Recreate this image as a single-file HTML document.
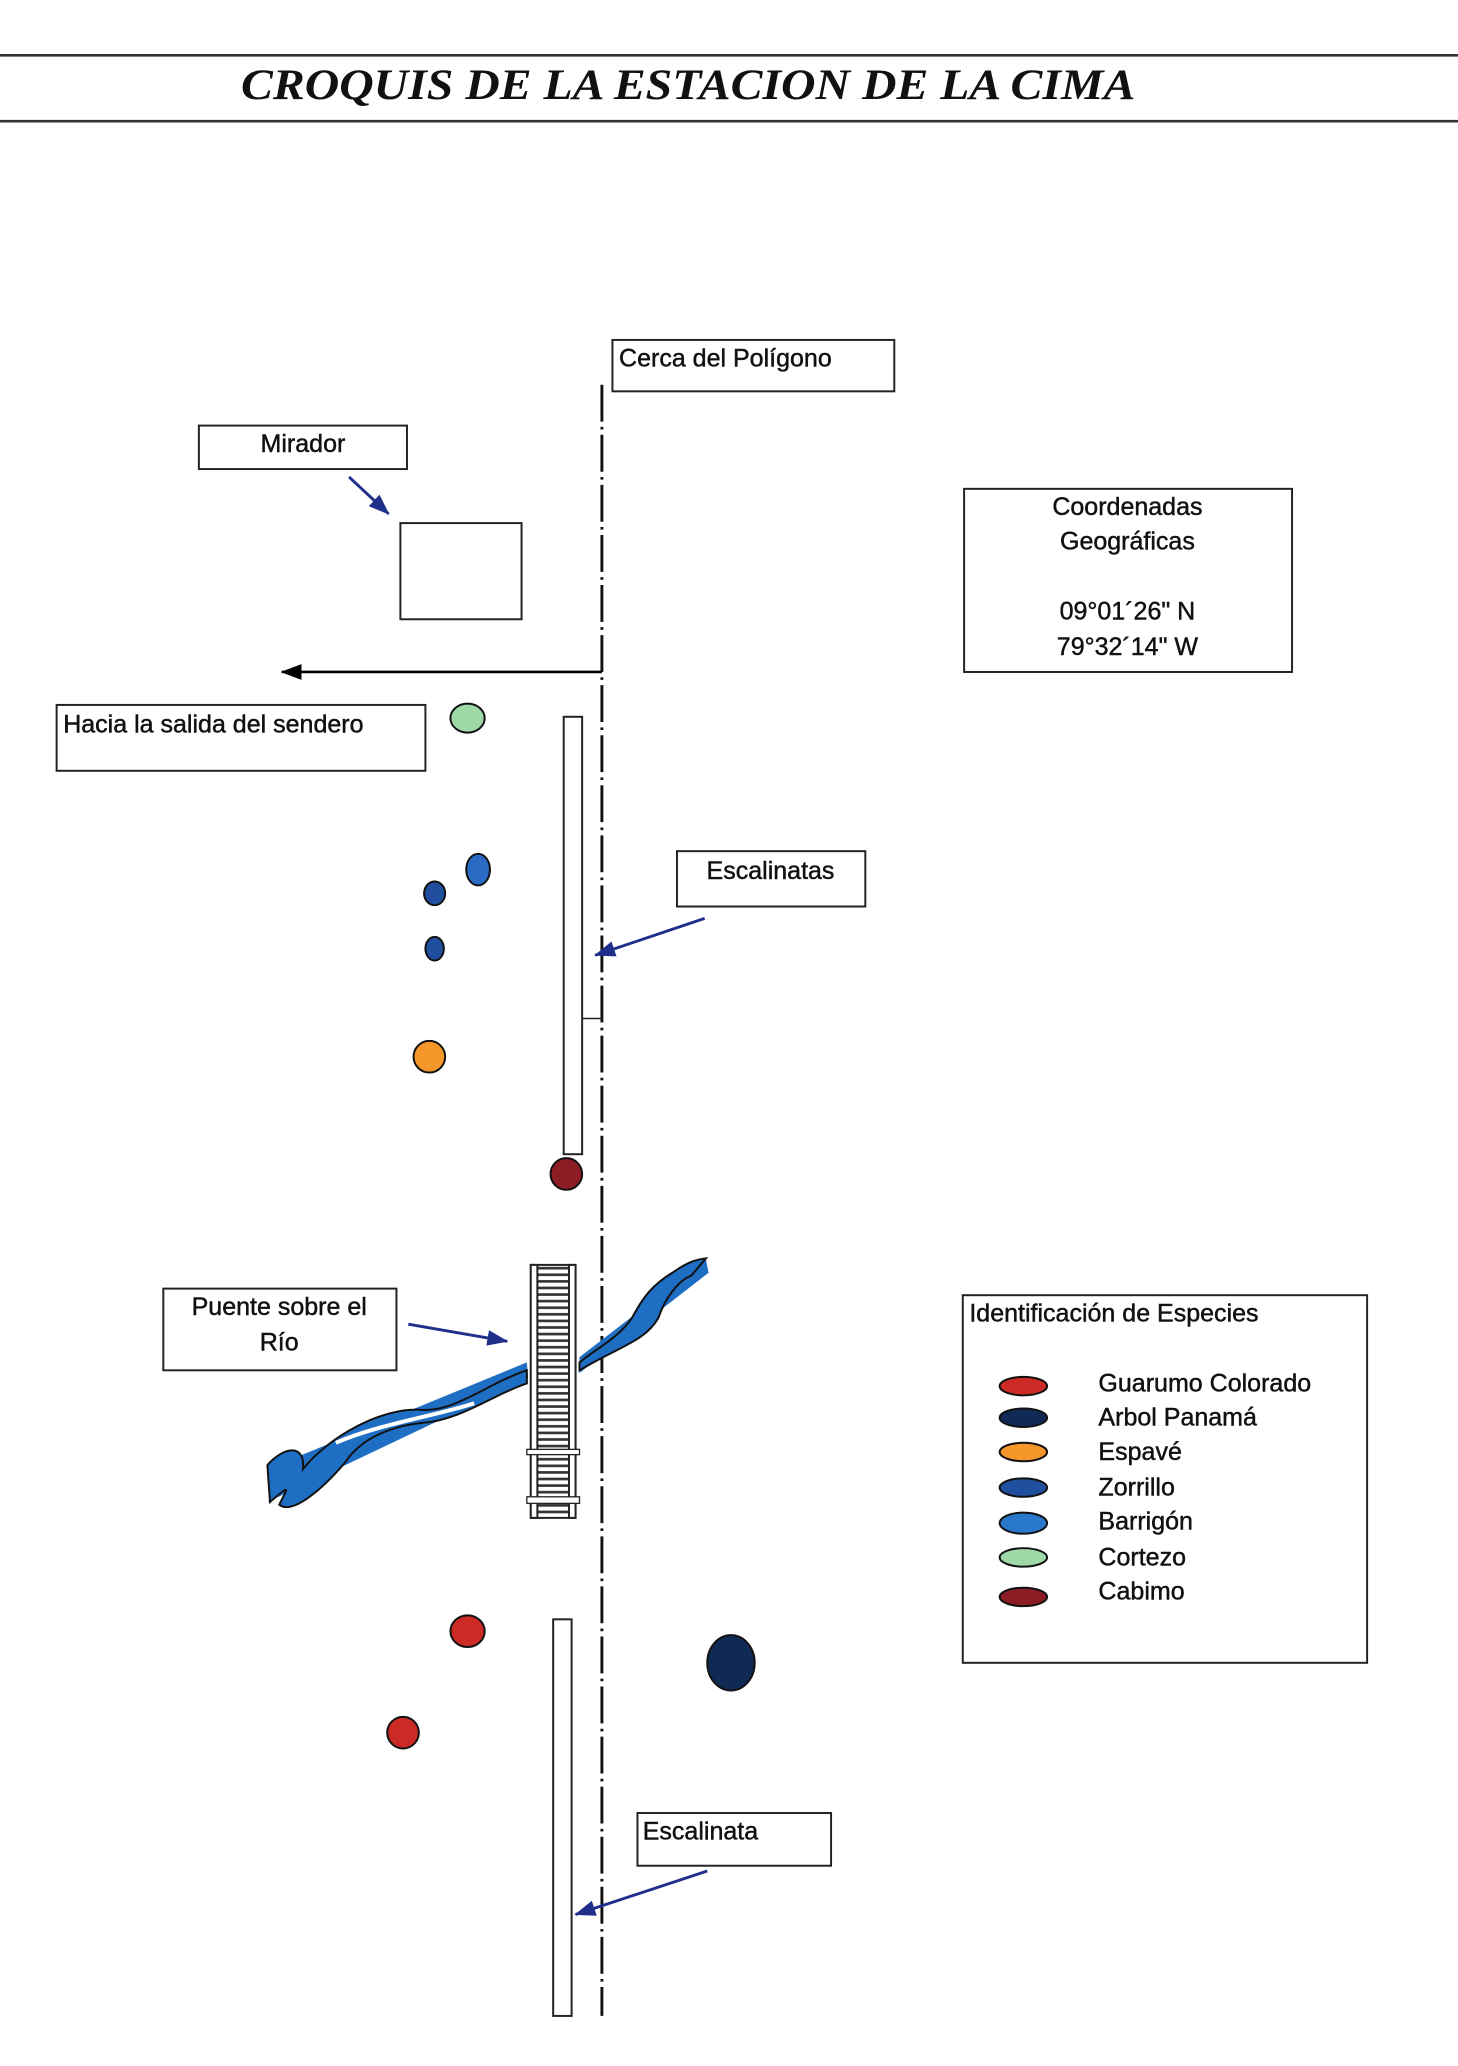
<!DOCTYPE html>
<html><head><meta charset="utf-8"><style>
html,body{margin:0;padding:0;background:#fff;}
svg{display:block;}
text{font-family:"Liberation Sans",Arial,sans-serif;fill:#111;stroke:#111;stroke-width:0.35;}
</style></head><body>
<svg width="1458" height="2066" viewBox="0 0 1107 1568" preserveAspectRatio="none" xmlns="http://www.w3.org/2000/svg">
<defs>
<marker id="ah" markerWidth="16" markerHeight="12" refX="15" refY="6" orient="auto" markerUnits="userSpaceOnUse"><path d="M0,0 L16,6 L0,12 Z" fill="#1f2f8a"/></marker>
<marker id="ak" markerWidth="16" markerHeight="12" refX="15" refY="6" orient="auto" markerUnits="userSpaceOnUse"><path d="M0,0 L16,6 L0,12 Z" fill="#000"/></marker>
<pattern id="rungs" x="0" y="0" width="30" height="5" patternUnits="userSpaceOnUse"><rect width="30" height="5" fill="#fff"/><rect y="1.5" width="30" height="2" fill="#333"/></pattern>
</defs>
<rect width="1107" height="1568" fill="#fff"/>
<line x1="0" y1="42" x2="1107" y2="42" stroke="#333" stroke-width="2"/>
<line x1="0" y1="92" x2="1107" y2="92" stroke="#333" stroke-width="2"/>
<text x="183" y="75" font-style="italic" font-weight="bold" font-size="33" textLength="679" lengthAdjust="spacingAndGlyphs" style="font-family:'Liberation Serif',serif;stroke-width:0">CROQUIS DE LA ESTACION DE LA CIMA</text>

<line x1="457" y1="292" x2="457" y2="1530" stroke="#111" stroke-width="2.2" stroke-dasharray="28 4 2 4"/>

<g fill="#fff" stroke="#222" stroke-width="1.5">
<rect x="465" y="258" width="214" height="39"/>
<rect x="151" y="323" width="158" height="33"/>
<rect x="304" y="397" width="92" height="73"/>
<rect x="732" y="371" width="249" height="139"/>
<rect x="43" y="535" width="280" height="50"/>
<rect x="428" y="544" width="14" height="332"/>
<rect x="514" y="646" width="143" height="42"/>
<rect x="124" y="978" width="177" height="62"/>
<rect x="420" y="1229" width="14" height="301"/>
<rect x="484" y="1376" width="147" height="40"/>
<rect x="731" y="983" width="307" height="279"/>
</g>
<line x1="442" y1="773" x2="457" y2="773" stroke="#222" stroke-width="1.2"/>

<text x="470" y="278" font-size="19">Cerca del Polígono</text>
<text x="230" y="343" font-size="19" text-anchor="middle">Mirador</text>
<text x="856" y="391" font-size="19" text-anchor="middle">Coordenadas</text>
<text x="856" y="417" font-size="19" text-anchor="middle">Geográficas</text>
<text x="856" y="470" font-size="19" text-anchor="middle">09°01´26" N</text>
<text x="856" y="497" font-size="19" text-anchor="middle">79°32´14" W</text>
<text x="48" y="556" font-size="19">Hacia la salida del sendero</text>
<text x="585" y="667" font-size="19" text-anchor="middle">Escalinatas</text>
<text x="212" y="998" font-size="19" text-anchor="middle">Puente sobre el</text>
<text x="212" y="1025" font-size="19" text-anchor="middle">Río</text>
<text x="488" y="1396" font-size="19">Escalinata</text>
<text x="736" y="1003" font-size="19">Identificación de Especies</text>

<g stroke="#1f2f8a" stroke-width="2.2" fill="none" marker-end="url(#ah)">
<line x1="265" y1="362" x2="295" y2="390"/>
<line x1="535" y1="697" x2="452" y2="725"/>
<line x1="310" y1="1005" x2="385" y2="1018"/>
<line x1="537" y1="1420" x2="437" y2="1453"/>
</g>
<line x1="457" y1="510" x2="214" y2="510" stroke="#000" stroke-width="2" marker-end="url(#ak)"/>

<g>
<path d="M203,1115 L400,1034 L401,1046 L203,1140 L218,1126 Z" fill="#1e6fc4"/>
<path d="M440,1030 L536,956 L538,966 L440,1042 Z" fill="#1e6fc4"/>
<path d="M203,1112 C215,1098 232,1095 230,1115 C250,1090 290,1068 320,1070 C345,1072 370,1050 400,1040 L400,1050 C375,1058 350,1078 320,1080 C300,1082 275,1090 262,1110 C245,1130 222,1150 212,1142 C218,1130 222,1125 205,1140 Z" fill="#1e6fc4" stroke="#111" stroke-width="1.5"/>
<path d="M440,1034 C455,1022 470,1015 480,1000 C488,985 495,975 512,965 C522,958 528,956 536,955 L525,968 C515,972 505,985 500,1000 C490,1018 470,1022 440,1040 Z" fill="#1e6fc4" stroke="#111" stroke-width="1.5"/>
<path d="M255,1095 C290,1080 330,1075 360,1065" stroke="#fff" stroke-width="3" fill="none"/>
</g>

<rect x="403" y="960" width="34" height="192" fill="url(#rungs)" stroke="#222" stroke-width="1.5"/>
<rect x="403" y="960" width="5" height="192" fill="#fff" stroke="#222" stroke-width="1.5"/>
<rect x="432" y="960" width="5" height="192" fill="#fff" stroke="#222" stroke-width="1.5"/>
<rect x="400" y="1100" width="40" height="4" fill="#fff" stroke="#222" stroke-width="1"/>
<rect x="400" y="1136" width="40" height="5" fill="#fff" stroke="#222" stroke-width="1"/>

<g stroke="#111" stroke-width="1.5">
<ellipse cx="355" cy="545" rx="13" ry="11" fill="#9fd9a8"/>
<ellipse cx="363" cy="660" rx="9" ry="12" fill="#2a6cc4"/>
<ellipse cx="330" cy="678" rx="8" ry="9" fill="#1f4f9e"/>
<ellipse cx="330" cy="720" rx="7" ry="9" fill="#1f4f9e"/>
<circle cx="326" cy="802" r="12" fill="#f5962a"/>
<circle cx="430" cy="891" r="12" fill="#8e1c24"/>
<ellipse cx="355" cy="1238" rx="13" ry="12" fill="#cc2a24"/>
<ellipse cx="306" cy="1315" rx="12" ry="12" fill="#cc2a24"/>
<ellipse cx="555" cy="1262" rx="18" ry="21" fill="#0f2a55"/>
<ellipse cx="777" cy="1052" rx="18" ry="7" fill="#cc2a24"/>
<ellipse cx="777" cy="1076" rx="18" ry="7" fill="#0f2a55"/>
<ellipse cx="777" cy="1102" rx="18" ry="7" fill="#f5962a"/>
<ellipse cx="777" cy="1129" rx="18" ry="7" fill="#1f4f9e"/>
<ellipse cx="777" cy="1156" rx="18" ry="8" fill="#2a78cc"/>
<ellipse cx="777" cy="1182" rx="18" ry="7" fill="#9fd9a8"/>
<ellipse cx="777" cy="1212" rx="18" ry="7" fill="#8e1c24"/>
</g>
<g font-size="19">
<text x="834" y="1056">Guarumo Colorado</text>
<text x="834" y="1082">Arbol Panamá</text>
<text x="834" y="1108">Espavé</text>
<text x="834" y="1135">Zorrillo</text>
<text x="834" y="1161">Barrigón</text>
<text x="834" y="1188">Cortezo</text>
<text x="834" y="1214">Cabimo</text>
</g>
</svg>
</body></html>
